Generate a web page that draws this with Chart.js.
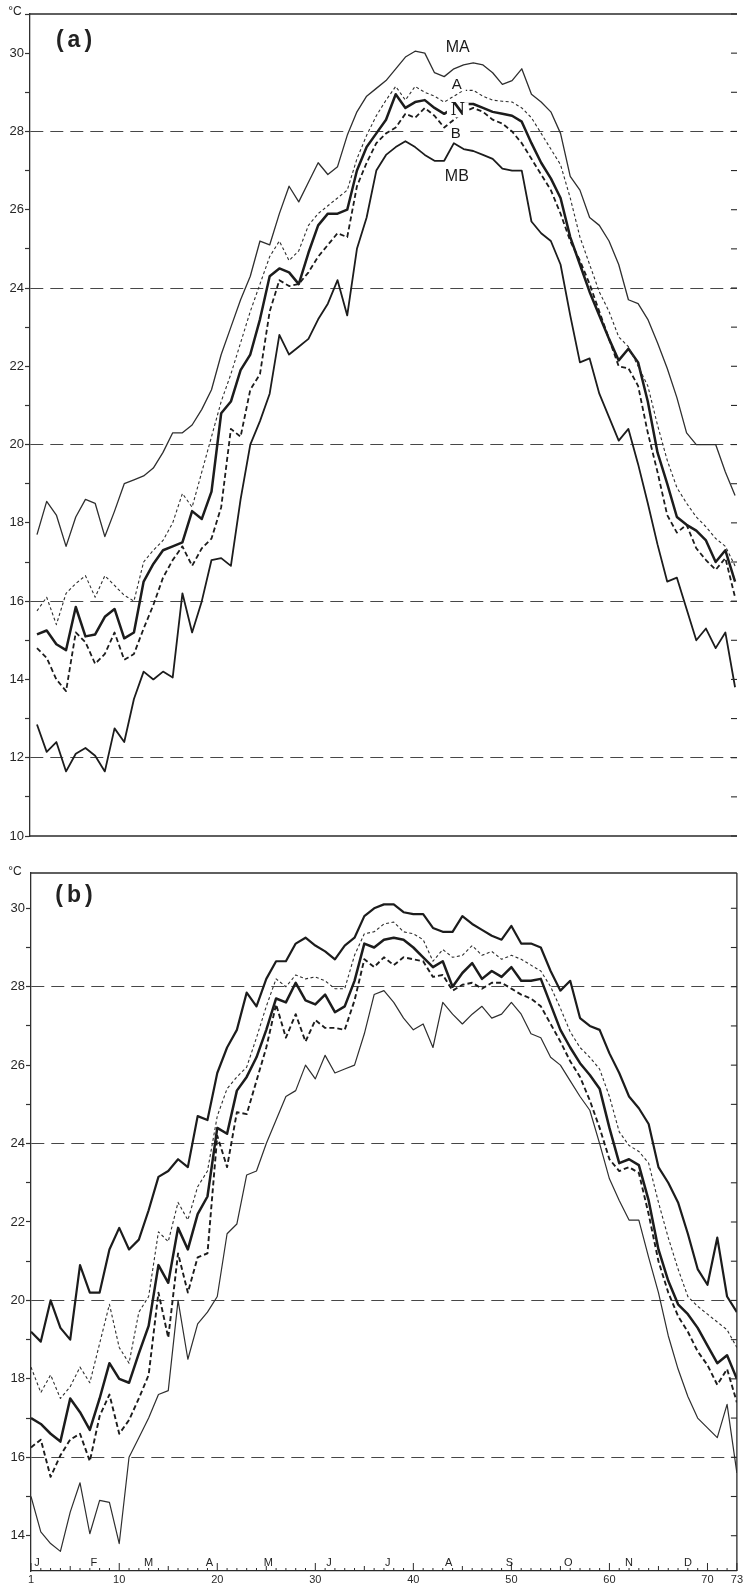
<!DOCTYPE html>
<html><head><meta charset="utf-8">
<script src="https://cdn.jsdelivr.net/npm/chart.js@4.4.1/dist/chart.umd.min.js"></script>
<style>
html,body{margin:0;padding:0;background:#fff;}
#wrap{position:relative;width:745px;height:1586px;overflow:hidden;background:#fff;}
canvas{position:absolute;left:0;}
#ca{top:0;}
#cb{top:850px;}
</style></head><body>
<div id="wrap"><canvas id="ca" width="745" height="850"></canvas><canvas id="cb" width="745" height="736"></canvas></div>
<script>
// ---------- data ----------
const pentads = Array.from({length: 73}, (_, i) => i + 1);
const xTickLabels = [1, 10, 20, 30, 40, 50, 60, 70, 73];
const monthLetters = ['J','F','M','A','M','J','J','A','S','O','N','D'];
const monthStartDay = [0, 31, 59, 90, 120, 151, 181, 212, 243, 273, 304, 334];
const seriesNames = ['MA', 'A', 'N', 'B', 'MB'];

// panel (a)
const MA_a = [
17.7,18.55,18.2,17.4,18.15,18.6,18.5,17.65,18.3,19.0,
19.1,19.2,19.4,19.8,20.3,20.3,20.5,20.9,21.4,22.3,
23.0,23.7,24.3,25.2,25.1,25.9,26.6,26.2,26.7,27.2,
26.9,27.1,27.9,28.5,28.9,29.1,29.3,29.6,29.9,30.05,
30.0,29.5,29.4,29.6,29.7,29.75,29.7,29.5,29.2,29.3,
29.6,28.95,28.75,28.5,27.95,26.85,26.5,25.8,25.6,25.2,
24.6,23.7,23.6,23.2,22.6,21.95,21.2,20.3,20.0,20.0,
20.0,19.3,18.7];
const A_a = [
15.75,16.1,15.4,16.2,16.45,16.65,16.1,16.65,16.4,16.15,
16.0,17.0,17.3,17.55,18.0,18.75,18.4,19.3,20.2,21.1,
21.8,22.6,23.4,24.1,24.8,25.2,24.7,24.95,25.6,25.9,
26.1,26.3,26.5,27.3,27.9,28.4,28.8,29.15,28.8,29.15,
29.0,28.9,28.75,28.9,29.05,29.05,28.9,28.8,28.77,28.75,
28.6,28.35,27.95,27.55,27.15,26.3,25.3,24.6,23.9,23.4,
22.75,22.5,22.0,21.5,20.5,19.6,18.9,18.5,18.15,17.9,
17.6,17.4,16.9];
const N_a = [
15.15,15.25,14.9,14.75,15.85,15.1,15.15,15.6,15.8,15.05,
15.2,16.5,16.95,17.3,17.4,17.5,18.3,18.1,18.8,20.8,
21.1,21.9,22.3,23.2,24.3,24.5,24.4,24.1,24.9,25.6,
25.9,25.9,26.0,27.0,27.6,27.95,28.3,28.95,28.6,28.75,
28.8,28.6,28.45,28.6,28.7,28.7,28.6,28.5,28.45,28.4,
28.25,27.7,27.2,26.8,26.3,25.3,24.6,23.9,23.3,22.7,
22.15,22.45,22.1,21.1,19.8,19.0,18.15,17.95,17.8,17.55,
17.0,17.3,16.5];
const B_a = [
14.8,14.55,14.0,13.7,15.2,14.95,14.4,14.65,15.2,14.5,
14.65,15.3,15.9,16.6,17.05,17.4,16.9,17.35,17.6,18.4,
20.4,20.2,21.4,21.8,23.4,24.2,24.05,24.1,24.4,24.8,
25.1,25.4,25.3,26.6,27.2,27.7,27.95,28.1,28.45,28.35,
28.6,28.4,28.1,28.3,28.5,28.6,28.5,28.3,28.2,28.0,
27.7,27.3,26.9,26.5,25.9,25.2,24.7,24.1,23.4,22.7,
22.0,21.95,21.5,20.3,19.3,18.2,17.75,17.95,17.35,17.05,
16.8,17.1,16.1];
const MB_a = [
12.85,12.15,12.4,11.65,12.1,12.25,12.05,11.65,12.75,12.4,
13.5,14.2,14.0,14.2,14.05,16.2,15.2,16.0,17.05,17.1,
16.9,18.6,20.0,20.6,21.3,22.8,22.3,22.5,22.7,23.2,
23.6,24.2,23.3,25.0,25.8,27.0,27.4,27.6,27.75,27.6,
27.4,27.25,27.25,27.7,27.55,27.5,27.4,27.3,27.05,27.0,
27.0,25.7,25.4,25.2,24.6,23.3,22.1,22.2,21.3,20.7,
20.1,20.4,19.5,18.5,17.45,16.5,16.6,15.8,15.0,15.3,
14.8,15.2,13.8];

// panel (b)
const MA_b = [
19.2,18.95,20.0,19.3,19.0,20.9,20.2,20.2,21.3,21.85,
21.3,21.55,22.3,23.15,23.3,23.6,23.4,24.7,24.6,25.8,
26.45,26.9,27.85,27.5,28.2,28.65,28.65,29.1,29.25,29.05,
28.9,28.7,29.05,29.25,29.8,30.0,30.1,30.1,29.9,29.85,
29.85,29.5,29.4,29.4,29.8,29.6,29.45,29.3,29.2,29.55,
29.1,29.1,29.0,28.4,27.9,28.15,27.2,27.0,26.9,26.3,
25.8,25.2,24.9,24.5,23.4,23.0,22.5,21.7,20.8,20.4,
21.6,20.1,19.7];
const A_b = [
18.3,17.65,18.1,17.5,17.8,18.3,17.9,18.9,19.9,18.8,
18.4,19.7,20.1,21.75,21.5,22.5,22.05,22.9,23.3,24.7,
25.4,25.7,25.95,26.7,27.5,28.2,28.0,28.3,28.2,28.25,
28.15,27.95,27.95,28.8,29.35,29.4,29.6,29.65,29.4,29.35,
29.2,28.65,28.95,28.75,28.8,29.05,28.8,28.9,28.7,28.8,
28.7,28.55,28.4,28.0,27.45,26.85,26.45,26.2,25.9,25.2,
24.3,23.95,23.8,23.5,22.5,21.6,20.8,20.1,19.85,19.65,
19.45,19.25,18.8];
const N_b = [
17.0,16.85,16.6,16.4,17.5,17.15,16.7,17.5,18.4,18.0,
17.9,18.65,19.35,20.9,20.45,21.85,21.3,22.2,22.65,24.4,
24.25,25.35,25.7,26.2,26.9,27.7,27.6,28.1,27.65,27.55,
27.8,27.35,27.5,28.15,29.1,29.0,29.2,29.25,29.2,29.0,
28.75,28.5,28.65,28.0,28.35,28.6,28.2,28.4,28.25,28.5,
28.15,28.15,28.2,27.55,26.9,26.45,26.05,25.75,25.4,24.4,
23.5,23.6,23.45,22.55,21.3,20.5,19.9,19.65,19.3,18.85,
18.4,18.6,18.0];
const B_b = [
16.25,16.45,15.5,16.05,16.45,16.6,15.9,17.05,17.6,16.6,
16.95,17.5,18.1,20.2,19.05,21.2,20.2,21.1,21.2,24.2,
23.4,24.8,24.75,25.6,26.45,27.55,26.7,27.3,26.6,27.15,
26.95,26.95,26.9,27.65,28.7,28.5,28.75,28.55,28.75,28.7,
28.65,28.25,28.3,27.9,28.05,28.1,27.95,28.1,28.1,27.95,
27.8,27.7,27.5,27.05,26.6,26.1,25.7,25.1,24.4,23.6,
23.3,23.4,23.25,22.2,21.0,20.2,19.6,19.2,18.7,18.35,
17.85,18.25,17.4];
const MB_b = [
15.0,14.1,13.8,13.6,14.6,15.35,14.05,14.9,14.85,13.8,
16.0,16.5,17.0,17.6,17.7,20.0,18.5,19.4,19.7,20.1,
21.7,21.95,23.2,23.3,24.0,24.6,25.2,25.35,26.0,25.65,
26.25,25.8,25.9,26.0,26.8,27.8,27.9,27.6,27.2,26.9,
27.05,26.45,27.6,27.3,27.05,27.3,27.5,27.2,27.3,27.6,
27.3,26.8,26.7,26.2,26.0,25.6,25.2,24.85,24.0,23.1,
22.55,22.05,22.05,21.1,20.2,19.1,18.25,17.55,17.0,16.75,
16.5,17.35,15.6];

// ---------- style ----------
const FONT = "'Liberation Sans', Arial, sans-serif";
const INK = '#1c1c1c';
const INK2 = '#2e2e2e';

function ds(label, vals, width, dash, color) {
  return {
    label, data: pentads.map((p, i) => ({x: p, y: vals[i]})),
    borderColor: color, borderWidth: width, borderDash: dash,
    pointRadius: 0, tension: 0, fill: false,
    borderJoinStyle: 'round', borderCapStyle: 'butt'
  };
}

function yScale(min, max, gridVals, width) {
  return {
    type: 'linear', min, max, position: 'left',
    afterFit: s => { s.width = width; },
    ticks: {
      stepSize: 1, autoSkip: false, padding: 1, color: '#262626',
      font: {family: FONT, size: 13},
      callback: v => (Number.isInteger(v) && v % 2 === 0) ? String(v) : ''
    },
    grid: {
      drawOnChartArea: true, drawTicks: true, tickLength: 5, tickWidth: 1.2,
      lineWidth: 1,
      color: c => (c.tick && gridVals.includes(c.tick.value)) ? '#474747' : 'rgba(0,0,0,0)',
      tickColor: c => (c.tick && Number.isInteger(c.tick.value)) ? '#333' : 'rgba(0,0,0,0)'
    },
    border: {display: true, color: '#303030', width: 1.3, dash: [13, 7]}
  };
}

function line(ctx, x1, y1, x2, y2) {
  ctx.beginPath(); ctx.moveTo(x1, y1); ctx.lineTo(x2, y2); ctx.stroke();
}

const decoPlugin = {
  id: 'deco',
  afterDatasetsDraw(chart, args, o) {
    const {ctx, scales: {x, y}} = chart;
    if (!o.labels) return;
    ctx.save();
    o.labels.forEach(l => {
      const px = x.getPixelForValue(l.p), py = y.getPixelForValue(l.v);
      ctx.font = l.font;
      ctx.textAlign = 'center'; ctx.textBaseline = 'middle';
      if (l.bg) {
        const w = ctx.measureText(l.text).width + 8;
        ctx.fillStyle = '#fff';
        ctx.fillRect(px - w / 2, py - l.h / 2, w, l.h);
      }
      ctx.fillStyle = '#1a1a1a';
      ctx.fillText(l.text, px, py);
    });
    ctx.restore();
  },
  afterDraw(chart, args, o) {
    const {ctx, chartArea: ca, scales: {x, y}} = chart;
    ctx.save();
    ctx.strokeStyle = '#2a2a2a'; ctx.lineWidth = 1.3;
    line(ctx, ca.left, ca.top, ca.right, ca.top);
    if (o.rightBorder) line(ctx, ca.right, ca.top, ca.right, ca.bottom);
    if (o.bottomBorder) line(ctx, ca.left, ca.bottom, ca.right, ca.bottom);
    ctx.lineWidth = 1.1;
    for (let v = Math.ceil(y.min); v <= Math.floor(y.max); v++) {
      const py = y.getPixelForValue(v);
      line(ctx, ca.right - 6, py, ca.right, py);
    }
    ctx.fillStyle = '#222';
    ctx.font = '12px ' + FONT; ctx.textAlign = 'center'; ctx.textBaseline = 'middle';
    ctx.fillText('°C', o.unitPos[0], o.unitPos[1]);
    ctx.font = 'bold 23px ' + FONT;
    try { ctx.letterSpacing = '4px'; } catch (e) {}
    ctx.fillText(o.panel, o.panelPos[0], o.panelPos[1]);
    try { ctx.letterSpacing = '0px'; } catch (e) {}
    if (o.pentadTicks) {
      ctx.lineWidth = 1;
      pentads.forEach(p => {
        const px = x.getPixelForValue(p);
        const h = (p % 10 === 0 || p === 1 || p === 73) ? 8 : (p % 5 === 0 ? 5 : 3);
        line(ctx, px, ca.bottom, px, ca.bottom - h);
      });
      ctx.font = '11px ' + FONT; ctx.textBaseline = 'alphabetic'; ctx.textAlign = 'center';
      monthLetters.forEach((m, i) => {
        const p = i === 0 ? 1.6 : 1 + monthStartDay[i] / 5 + 0.2;
        ctx.fillText(m, x.getPixelForValue(p), ca.bottom - 5);
      });
    }
    ctx.restore();
  }
};

// ---------- panel (a) ----------
new Chart(document.getElementById('ca'), {
  type: 'line',
  data: {datasets: [
    ds(seriesNames[0], MA_a, 1.3, [], INK2),
    ds(seriesNames[1], A_a, 1.1, [3, 2.5], INK2),
    ds(seriesNames[2], N_a, 2.5, [], INK),
    ds(seriesNames[3], B_a, 1.8, [5, 3], INK),
    ds(seriesNames[4], MB_a, 1.8, [], INK)
  ]},
  options: {
    responsive: false, animation: false, devicePixelRatio: 1,
    layout: {padding: {top: 14, right: 8, bottom: 14, left: 0}},
    plugins: {
      legend: {display: false}, tooltip: {enabled: false},
      deco: {
        rightBorder: false, bottomBorder: true, pentadTicks: false,
        unitPos: [15, 12], panel: '(a)', panelPos: [76, 41],
        labels: [
          {text: 'MA', p: 44.4, v: 30.15, font: '16px ' + FONT, bg: false, h: 14},
          {text: 'A', p: 44.3, v: 29.18, font: '15px ' + FONT, bg: true, h: 12},
          {text: 'N', p: 44.4, v: 28.55, font: "bold 19px 'Liberation Serif', serif", bg: true, h: 15},
          {text: 'B', p: 44.2, v: 27.93, font: '15px ' + FONT, bg: true, h: 12},
          {text: 'MB', p: 44.3, v: 26.85, font: '16px ' + FONT, bg: false, h: 14}
        ]
      }
    },
    scales: {
      x: {type: 'linear', min: 0.28, max: 73.2, display: false},
      y: yScale(10, 31, [12, 16, 20, 24, 28], 30)
    }
  },
  plugins: [decoPlugin]
});

// ---------- panel (b) ----------
new Chart(document.getElementById('cb'), {
  type: 'line',
  data: {datasets: [
    ds(seriesNames[0], MA_b, 2.2, [], INK),
    ds(seriesNames[1], A_b, 1.1, [3, 2.5], INK2),
    ds(seriesNames[2], N_b, 2.5, [], INK),
    ds(seriesNames[3], B_b, 1.9, [5, 3], INK),
    ds(seriesNames[4], MB_b, 1.2, [], INK2)
  ]},
  options: {
    responsive: false, animation: false, devicePixelRatio: 1,
    layout: {padding: {top: 23, right: 8, bottom: 0, left: 0}},
    plugins: {
      legend: {display: false}, tooltip: {enabled: false},
      deco: {
        rightBorder: true, bottomBorder: false, pentadTicks: true,
        unitPos: [15, 22], panel: '(b)', panelPos: [76, 46]
      }
    },
    scales: {
      x: {
        type: 'linear', min: 1, max: 73, position: 'bottom',
        afterFit: s => { s.height = 15; },
        afterBuildTicks: s => { s.ticks = xTickLabels.map(v => ({value: v})); },
        ticks: {autoSkip: false, maxRotation: 0, padding: 2, color: '#2a2a2a',
          font: {family: FONT, size: 11}, callback: v => String(v)},
        grid: {display: false, drawTicks: false},
        border: {display: true, color: '#2a2a2a', width: 1.3}
      },
      y: yScale(13.1, 30.9, [16, 20, 24, 28], 31)
    }
  },
  plugins: [decoPlugin]
});
</script>
</body></html>
